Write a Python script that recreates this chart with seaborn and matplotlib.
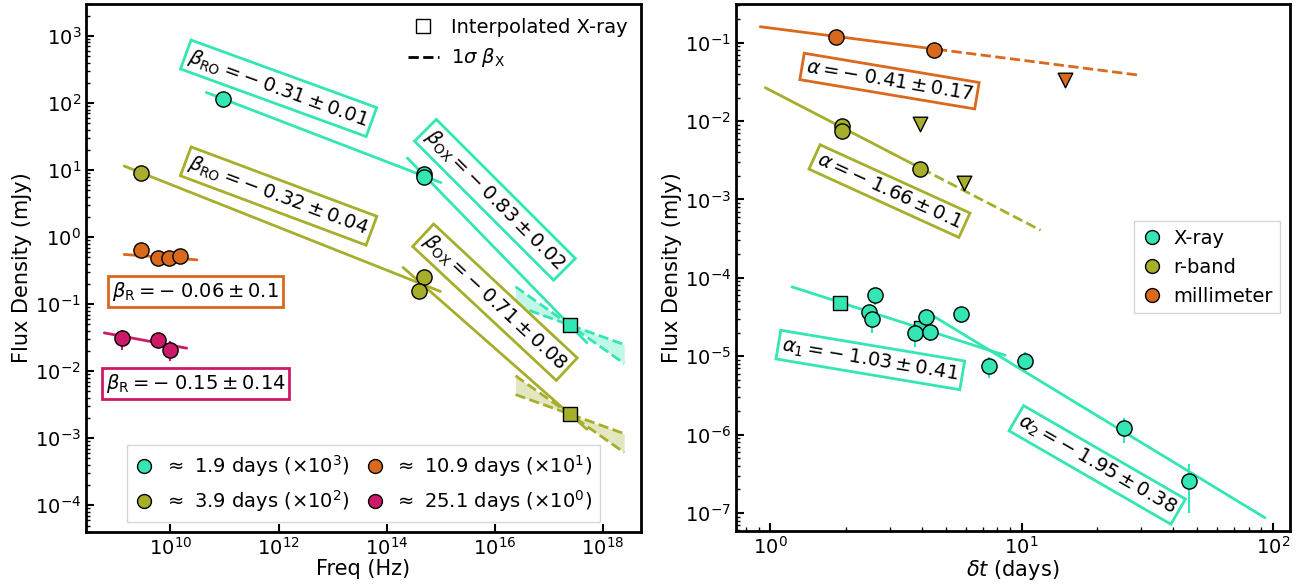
import numpy as np
import pandas as pd
import seaborn as sns
import matplotlib.pyplot as plt
from matplotlib.lines import Line2D
from matplotlib.ticker import LogLocator, NullLocator

sns.set_style('white')
plt.rcParams['font.family'] = ['DejaVu Sans']
plt.rcParams['mathtext.fontset'] = 'dejavusans'
for k in ['text.color', 'axes.labelcolor', 'axes.edgecolor', 'xtick.color', 'ytick.color']:
    plt.rcParams[k] = 'black'

teal = '#33e6b4'
olive = '#a6ae2c'
orange = '#d9691d'
pink = '#cc1a68'

## ---- SED (left) data ----
sed_19_freq = [9.5e10, 4.9e14, 4.9e14]
sed_19_flux = [115, 8.6, 7.8]
sed_19_err = [6, 0.8, 0.7]

sed_39_freq = [2.9e9, 4.9e14, 4.0e14]
sed_39_flux = [9.1, 0.25, 0.158]
sed_39_err = [1.5, 0.04, 0.04]

sed_109_freq = [2.9e9, 5.8e9, 9.6e9, 1.5e10]
sed_109_flux = [0.64, 0.49, 0.48, 0.52]
sed_109_err = [0.14, 0.1, 0.08, 0.06]

sed_251_freq = [1.27e9, 5.8e9, 9.7e9]
sed_251_flux = [0.031, 0.029, 0.021]
sed_251_err = [0.01, 0.005, 0.007]

xray_interp_freq = 2.4e17
xray_interp_flux = [0.049, 0.0023]      # 1.9 d, 3.9 d
beta_x_slopes = [-0.29, -0.57]
beta_x_range = [2.4e16, 2.45e18]

# spectral fits: (slope, anchor x, anchor y, x start, x end)
sed_fits = {
    'teal_ro': (-0.31, 9.5e10, 115, 4.6e10, 1.0e15),
    'teal_ox': (-0.83, 2.4e17, 0.049, 2.4e14, 5.0e17),
    'olive_ro': (-0.32, 2.9e9, 9.1, 1.4e9, 9.8e14),
    'olive_ox': (-0.71, 2.4e17, 0.0023, 2.0e14, 5.0e17),
    'orange_r': (-0.06, 1.4e9, 0.552, 1.4e9, 3.1e10),
    'pink_r': (-0.15, 6.0e8, 0.0373, 6.0e8, 2.0e10),
}

## ---- light curve (right) data ----
xray_t = [2.60, 2.46, 2.54, 4.18, 3.75, 4.33, 5.75, 7.44, 10.3, 25.6, 46.5]
xray_f = [6.0e-5, 3.7e-5, 3.0e-5, 3.2e-5, 2.0e-5, 2.05e-5, 3.45e-5, 7.5e-6, 8.7e-6, 1.2e-6, 2.6e-7]
xray_e = [1.5e-5, 0.6e-5, 1.0e-5, 0.7e-5, 0.7e-5, 0.5e-5, 0.8e-5, 2.2e-6, 2.6e-6, 0.42e-6, 1.6e-7]
xray_sq_t = [1.90, 3.98]
xray_sq_f = [4.8e-5, 2.3e-5]

rband_t = [1.92, 1.92, 3.93]
rband_f = [8.56e-3, 7.45e-3, 2.47e-3]
rband_ul_t = [3.93, 5.92]
rband_ul_f = [9.1e-3, 1.62e-3]

mm_t = [1.83, 4.49]
mm_f = [0.117, 0.0806]
mm_ul_t = [14.9]
mm_ul_f = [0.0333]

# temporal fits: (slope, start t, start flux, solid end, dashed end)
lc_fits = {
    'xray_a1': (-1.03, 1.22, 7.68e-5, 8.6, None),
    'xray_a2': (-1.95, 4.40, 3.34e-5, 93.0, None),
    'rband': (-1.66, 0.955, 2.67e-2, 4.0, 11.9),
    'mm': (-0.41, 0.912, 0.16, 4.6, 29.7),
}

sed_yticks = [1e-4, 1e-3, 1e-2, 1e-1, 1e0, 1e1, 1e2, 1e3]
sed_xticks = [1e10, 1e12, 1e14, 1e16, 1e18]
lc_yticks = [1e-7, 1e-6, 1e-5, 1e-4, 1e-3, 1e-2, 1e-1]
lc_xticks = [1, 10, 100]


def powerlaw(slope, x0, y0, xs):
    xs = np.asarray(xs)
    return y0 * (xs / x0) ** slope


def fit_line(ax, slope, x0, y0, xa, xb, color, ls='-'):
    xs = np.geomspace(xa, xb, 50)
    df = pd.DataFrame({'x': xs, 'y': powerlaw(slope, x0, y0, xs)})
    sns.lineplot(data=df, x='x', y='y', color=color, lw=2, ls=ls, ax=ax,
                 zorder=2, legend=False)


def points(ax, x, y, yerr, color, marker='o', s=120):
    if yerr is not None:
        ax.errorbar(x, y, yerr=yerr, fmt='none', ecolor=color, elinewidth=1.5, zorder=3)
    sns.scatterplot(x=x, y=y, color=color, marker=marker, s=s, edgecolor='k',
                    linewidth=1, ax=ax, zorder=4, legend=False)


def label(ax, x, y, txt, color, rot):
    ax.text(x, y, txt, fontsize=14, ha='center', va='center', rotation=rot,
            rotation_mode='anchor', zorder=6,
            bbox=dict(boxstyle='square,pad=0.2', fc='white', ec=color, lw=2))


def style_axes(ax):
    for sp in ax.spines.values():
        sp.set_linewidth(2)
        sp.set_color('black')
    ax.tick_params(which='major', direction='in', length=6, width=1.5,
                   labelsize=14, bottom=True, left=True)
    ax.tick_params(which='minor', direction='in', length=3, width=1,
                   bottom=True, left=True)


fig = plt.figure(figsize=(13.07, 5.87), dpi=100)
ax1 = fig.add_axes([0.0658, 0.0937, 0.4246, 0.8995])
ax2 = fig.add_axes([0.5631, 0.0954, 0.4239, 0.8978])

## ---- left panel ----
ax1.set_xscale('log')
ax1.set_yscale('log')

fit_colors = {'teal': teal, 'olive': olive, 'orange': orange, 'pink': pink}
for key, (sl, x0, y0, xa, xb) in sed_fits.items():
    fit_line(ax1, sl, x0, y0, xa, xb, fit_colors[key.split('_')[0]])

bx = np.geomspace(beta_x_range[0], beta_x_range[1], 50)
for fx, col in zip(xray_interp_flux, [teal, olive]):
    lo = powerlaw(beta_x_slopes[0], xray_interp_freq, fx, bx)
    hi = powerlaw(beta_x_slopes[1], xray_interp_freq, fx, bx)
    ax1.fill_between(bx, lo, hi, color=col, alpha=0.3, lw=0, zorder=1)
    for sl in beta_x_slopes:
        fit_line(ax1, sl, xray_interp_freq, fx, bx[0], bx[-1], col, ls='--')

points(ax1, sed_19_freq, sed_19_flux, sed_19_err, teal)
points(ax1, sed_39_freq, sed_39_flux, sed_39_err, olive)
points(ax1, sed_109_freq, sed_109_flux, sed_109_err, orange)
points(ax1, sed_251_freq, sed_251_flux, sed_251_err, pink)
points(ax1, [xray_interp_freq], [xray_interp_flux[0]], None, teal, marker='s', s=110)
points(ax1, [xray_interp_freq], [xray_interp_flux[1]], None, olive, marker='s', s=110)

label(ax1, 1.0e12, 166, r'$\beta_{\rm RO} = -\;0.31 \pm 0.01$', teal, -20.0)
label(ax1, 1.0e12, 4.1, r'$\beta_{\rm RO} = -\;0.32 \pm 0.04$', olive, -20.5)
label(ax1, 1.0e16, 3.6, r'$\beta_{\rm OX} = -\;0.83 \pm 0.02$', teal, -45.0)
label(ax1, 1.0e16, 0.107, r'$\beta_{\rm OX} = -\;0.71 \pm 0.08$', olive, -43.0)
label(ax1, 2.9e10, 0.156, r'$\beta_{\rm R} = -\;0.06 \pm 0.1$', orange, 0)
label(ax1, 2.9e10, 0.0066, r'$\beta_{\rm R} = -\;0.15 \pm 0.14$', pink, 0)

ax1.set_xlim(2.75e8, 5e18)
ax1.set_ylim(4e-5, 3000)
ax1.set_xticks(sed_xticks)
ax1.set_yticks(sed_yticks)
ax1.xaxis.set_minor_locator(NullLocator())
ax1.yaxis.set_minor_locator(LogLocator(base=10, subs=np.arange(2, 10), numticks=100))
ax1.set_xlabel('Freq (Hz)', fontsize=15, labelpad=0)
ax1.set_ylabel('Flux Density (mJy)', fontsize=15, labelpad=2)
style_axes(ax1)

top_handles = [
    Line2D([], [], marker='s', ls='none', mfc='white', mec='k', ms=10),
    Line2D([], [], ls='--', color='k', lw=2),
]
leg_top = ax1.legend(top_handles, ['Interpolated X-ray', r'1$\sigma$ $\beta_{\rm X}$'],
                     loc='upper right', frameon=False, fontsize=14,
                     handlelength=1.6, handletextpad=0.6, borderaxespad=0.3)
ax1.add_artist(leg_top)

epoch_labels = [r'$\approx$ 1.9 days ($\times10^3$)', r'$\approx$ 3.9 days ($\times10^2$)',
                r'$\approx$ 10.9 days ($\times10^1$)', r'$\approx$ 25.1 days ($\times10^0$)']
epoch_handles = [Line2D([], [], marker='o', ls='none', mfc=c, mec='k', ms=10)
                 for c in [teal, olive, orange, pink]]
ax1.legend(epoch_handles, epoch_labels, loc='lower center', ncol=2, fontsize=14,
           frameon=True, edgecolor='#cccccc', fancybox=False, columnspacing=0.8,
           handlelength=1.0, handletextpad=0.5)

## ---- right panel ----
ax2.set_xscale('log')
ax2.set_yscale('log')

lc_colors = {'xray': teal, 'rband': olive, 'mm': orange}
for key, (sl, t0, f0, t_solid, t_dash) in lc_fits.items():
    col = lc_colors[key.split('_')[0]]
    fit_line(ax2, sl, t0, f0, t0, t_solid, col)
    if t_dash is not None:
        fit_line(ax2, sl, t0, f0, t_solid, t_dash, col, ls='--')

points(ax2, xray_sq_t, xray_sq_f, None, teal, marker='s', s=110)
points(ax2, xray_t, xray_f, xray_e, teal)
points(ax2, rband_t, rband_f, None, olive)
points(ax2, rband_ul_t, rband_ul_f, None, olive, marker='v', s=110)
points(ax2, mm_t, mm_f, None, orange)
points(ax2, mm_ul_t, mm_ul_f, None, orange, marker='v', s=110)

label(ax2, 2.98, 0.0324, r'$\alpha = -\;\mathit{0.41} \pm \mathit{0.17}$', orange, -9.5)
label(ax2, 2.98, 1.28e-3, r'$\alpha = -\;\mathit{1.66} \pm \mathit{0.1}$', olive, -24.5)
label(ax2, 2.50, 8.97e-6, r'$\alpha_{\mathit{1}} = -\;\mathit{1.03} \pm \mathit{0.41}$', teal, -9.5)
label(ax2, 20.0, 4.11e-7, r'$\alpha_{\mathit{2}} = -\;\mathit{1.95} \pm \mathit{0.38}$', teal, -30.0)

ax2.set_xlim(0.73, 117)
ax2.set_ylim(5.9e-8, 0.312)
ax2.set_xticks(lc_xticks)
ax2.set_yticks(lc_yticks)
ax2.xaxis.set_minor_locator(LogLocator(base=10, subs=np.arange(2, 10), numticks=100))
ax2.yaxis.set_minor_locator(LogLocator(base=10, subs=np.arange(2, 10), numticks=100))
ax2.set_xlabel(r'$\delta t$ (days)', fontsize=15, labelpad=0)
ax2.set_ylabel('Flux Density (mJy)', fontsize=15, labelpad=2)
style_axes(ax2)

band_handles = [Line2D([], [], marker='o', ls='none', mfc=c, mec='k', ms=10)
                for c in [teal, olive, orange]]
ax2.legend(band_handles, ['X-ray', 'r-band', 'millimeter'], loc='center right',
           fontsize=14, frameon=True, edgecolor='#cccccc', fancybox=False,
           handlelength=1.0, handletextpad=0.6)

plt.savefig('out.png', dpi=100)
